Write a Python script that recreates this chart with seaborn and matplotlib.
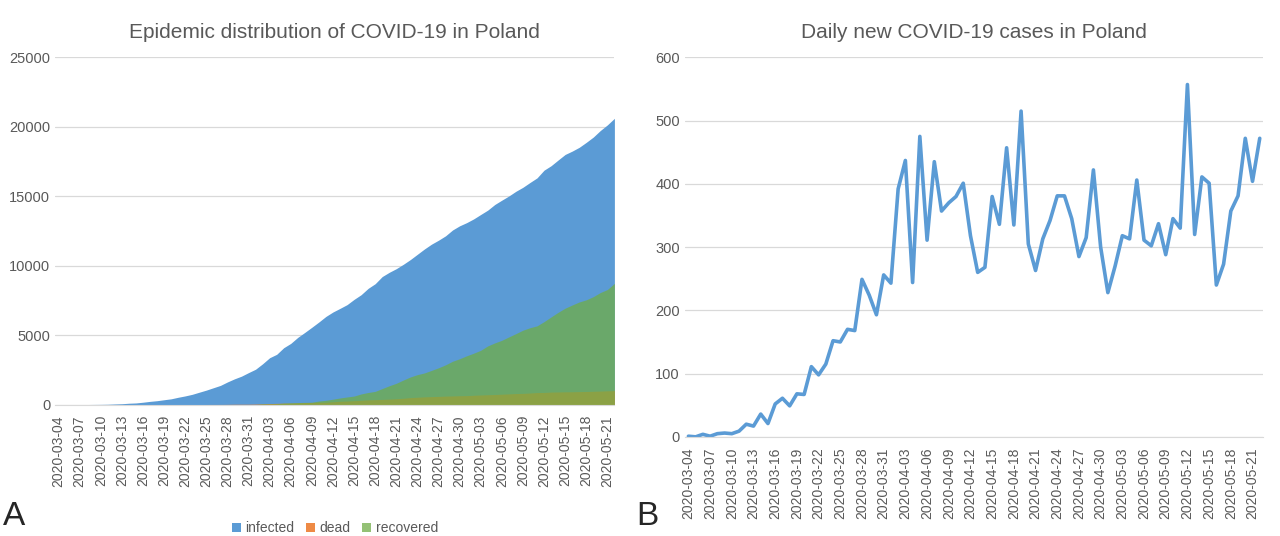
import numpy as np
import pandas as pd
import seaborn as sns
import matplotlib
matplotlib.use("Agg")
import matplotlib.pyplot as plt

# daily new cases, 2020-03-04 .. 2020-05-22
daily_new = [1, 0, 4, 1, 5, 6, 5, 9, 20, 17, 36, 21, 52, 61, 49, 68, 67, 111, 98, 115,
             152, 150, 170, 168, 249, 224, 193, 256,
             243, 392, 437, 244, 475, 311, 435, 357, 370, 380, 401, 318, 260, 268, 380, 336,
             457, 335, 515, 305, 263, 313, 342, 381, 381, 345, 285, 315, 422, 300,
             228, 270, 318, 313, 406, 311, 302, 337, 288, 345, 330, 557, 320, 411, 401, 240,
             273, 357, 381, 472, 404, 472]
dead = [0] * 8 + [1, 2, 3, 3, 5, 5, 5, 5, 5, 5, 7, 7, 8, 14, 16, 17, 22, 31, 32, 33,
        43, 57, 79, 94, 106, 109, 129, 152, 159, 174, 181, 208, 245, 263, 286, 314, 347, 360,
        380, 401, 427, 462, 508, 535, 562, 579, 596, 618, 628, 644,
        651, 678, 698, 716, 733, 755, 776, 800, 814, 839, 872, 880, 907, 915, 925, 929, 941,
        948, 964, 978, 997, 1010]
recovered = [0] * 20 + [1, 1, 1, 1, 1, 7, 7, 7,
             7, 56, 56, 71, 116, 135, 152, 166, 176, 262, 314, 394, 482, 555, 620, 773, 876,
             957, 1161, 1361, 1540, 1774, 1995, 2163, 2285, 2466, 2655, 2868, 3126, 3307,
             3518, 3706, 3914, 4230, 4447, 4634, 4879, 5114, 5362, 5539, 5674, 5977, 6316,
             6647, 6946, 7175, 7393, 7548, 7776, 8072, 8289, 8731]

dates = pd.date_range("2020-03-04", periods=len(daily_new)).strftime("%Y-%m-%d").tolist()
df = pd.DataFrame({"date": dates, "new": daily_new, "dead": dead, "recovered": recovered})
df["infected"] = df["new"].cumsum()
df["x"] = np.arange(len(df))

BLUE, ORANGE, GREEN = "#5b9bd5", "#ed7d31", "#70ad47"
TXT = "#595959"

sns.set_style("white")
plt.rcParams["font.family"] = ["Liberation Sans", "DejaVu Sans"]
fig = plt.figure(figsize=(12.8, 5.36), dpi=100)

ticks = df["x"][::3]
ticklabels = df["date"][::3]


def style(ax):
    ax.grid(axis="y", color="#d9d9d9", lw=0.9)
    ax.set_axisbelow(True)
    for s in ["top", "right", "left"]:
        ax.spines[s].set_visible(False)
    ax.spines["bottom"].set_color("#d9d9d9")
    ax.set_xticks(ticks)
    ax.set_xticklabels(ticklabels, rotation=90, fontsize=10, color=TXT)
    ax.set_xticks(df["x"], minor=True)
    ax.tick_params(axis="x", which="both", direction="out", length=4, color="#d9d9d9")
    ax.tick_params(axis="y", labelsize=10.5, labelcolor=TXT, length=0)
    ax.set_xlabel("")
    ax.set_ylabel("")


# Panel A
ax1 = fig.add_axes([0.043, 0.245, 0.437, 0.648])
ax1.fill_between(df["x"], df["infected"], color=BLUE, lw=0, label="infected")
ax1.fill_between(df["x"], df["dead"], color=ORANGE, lw=0, alpha=0.9, label="dead")
ax1.fill_between(df["x"], df["recovered"], color=GREEN, lw=0, alpha=0.75, label="recovered")
ax1.set_xlim(-0.5, len(df) - 1)
ax1.set_ylim(0, 25000)
ax1.set_yticks(range(0, 25001, 5000))
style(ax1)
ax1.set_title("Epidemic distribution of COVID-19 in Poland", fontsize=15, color=TXT, pad=14)
ax1.legend(loc="upper center", bbox_to_anchor=(0.5, -0.3), ncol=3, frameon=False,
           fontsize=10, labelcolor=TXT, handlelength=0.7, handleheight=0.7, columnspacing=0.8,
           handletextpad=0.3)

# Panel B
ax2 = fig.add_axes([0.535, 0.185, 0.452, 0.708])
sns.lineplot(data=df, x="x", y="new", ax=ax2, color=BLUE, lw=2.6)
ax2.set_xlim(-0.5, len(df) - 0.5)
ax2.set_ylim(0, 600)
ax2.set_yticks(range(0, 601, 100))
style(ax2)
ax2.set_title("Daily new COVID-19 cases in Poland", fontsize=15, color=TXT, pad=14)

fig.text(0.002, 0.02, "A", fontsize=24)
fig.text(0.497, 0.02, "B", fontsize=24)

fig.savefig("out.png", dpi=100, facecolor="white")
